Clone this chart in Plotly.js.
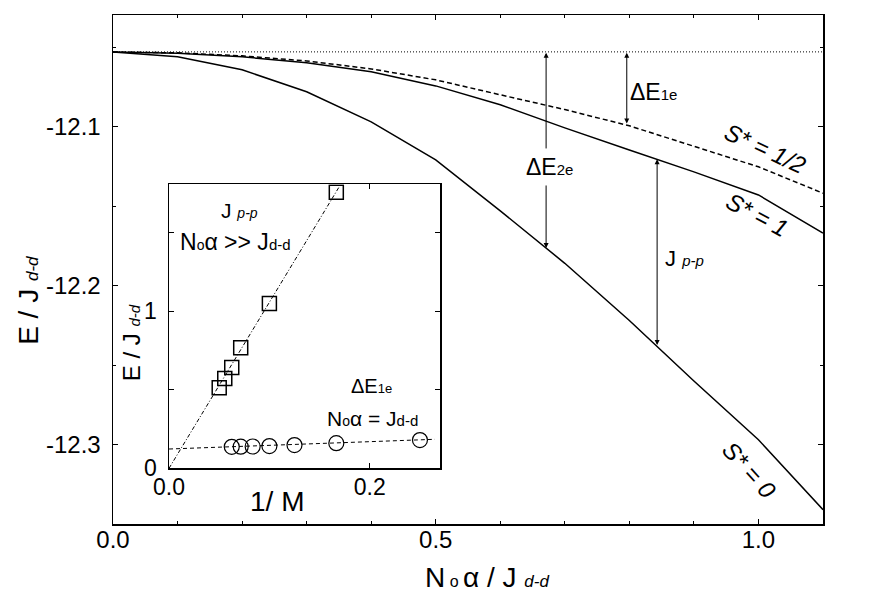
<!DOCTYPE html>
<html>
<head>
<meta charset="utf-8">
<script src="https://cdn.plot.ly/plotly-3.0.1.min.js"></script>
<style>
  html, body { margin: 0; padding: 0; background: #fff; }
  #plot { width: 872px; height: 603px; }
</style>
</head>
<body>
<div id="plot"></div>
<script>
// main panel: energy vs N0 alpha / J_dd
var nAlpha = [0, 0.1, 0.2, 0.3, 0.4, 0.5, 0.6, 0.7, 0.8, 0.9, 1.0, 1.1];
var eS0    = [-12.0531, -12.0561, -12.0643, -12.0781, -12.0970, -12.1210, -12.1530, -12.1860, -12.2220, -12.2600, -12.2970, -12.3410];
var eS1    = [-12.0531, -12.0539, -12.0561, -12.0599, -12.0655, -12.0744, -12.0863, -12.1008, -12.1147, -12.1285, -12.1430, -12.1670];
var eSHalf = [-12.0531, -12.0536, -12.0555, -12.0587, -12.0637, -12.0706, -12.0800, -12.0893, -12.0995, -12.1123, -12.1253, -12.1419];
var eLimit = -12.053;
var yTicks = [-12.3, -12.2, -12.1];

// inset: gaps vs 1/M
var invM_J = [1/20, 1/18, 1/16, 1/14, 1/10, 1/6];
var gapJ   = [0.513, 0.573, 0.643, 0.768, 1.051, 1.760];
var invM_D = [1/16, 1/14, 1/12, 1/10, 1/8, 1/6, 1/4];
var gapD   = [0.137, 0.138, 0.139, 0.142, 0.148, 0.160, 0.180];
var fitJx = [0, 0.172], fitJy = [0, 1.82];
var fitDx = [0, 0.265], fitDy = [0.123, 0.185];

var FONT = 'Liberation Sans, Arial, sans-serif';
var black = '#000';

var traces = [
  {x: [0, 1.1], y: [eLimit, eLimit], mode: 'lines', line: {color: black, width: 1, dash: '1px,2px'}},
  {x: nAlpha, y: eSHalf, mode: 'lines', line: {color: black, width: 1.5, dash: '5px,3px'}},
  {x: nAlpha, y: eS1, mode: 'lines', line: {color: black, width: 1.5}},
  {x: nAlpha, y: eS0, mode: 'lines', line: {color: black, width: 1.5}},
  // inset
  {x: fitJx, y: fitJy, xaxis: 'x2', yaxis: 'y2', mode: 'lines', line: {color: black, width: 1, dash: '4px,2px,1px,2px'}},
  {x: fitDx, y: fitDy, xaxis: 'x2', yaxis: 'y2', mode: 'lines', line: {color: black, width: 1, dash: '4px,3px'}},
  {x: invM_J, y: gapJ, xaxis: 'x2', yaxis: 'y2', mode: 'markers',
   marker: {symbol: 'square-open', size: 14, color: black, line: {width: 1.5}}},
  {x: invM_D, y: gapD, xaxis: 'x2', yaxis: 'y2', mode: 'markers',
   marker: {symbol: 'circle-open', size: 15, color: black, line: {width: 1.2}}}
];

function txt(x, y, text, size, extra) {
  var a = {x: x, y: y, xref: 'x', yref: 'y', text: text, showarrow: false,
           xanchor: 'center', yanchor: 'middle',
           font: {family: FONT, size: size, color: black}};
  for (var k in extra) a[k] = extra[k];
  return a;
}
function arrow(x, y0, y1, both) {
  return {x: x, y: y1, ax: x, ay: y0, xref: 'x', yref: 'y', axref: 'x', ayref: 'y',
          text: '', showarrow: true, arrowhead: 2, arrowsize: 1, arrowwidth: 1, arrowcolor: black,
          standoff: 0, startstandoff: 0,
          arrowside: both ? 'end+start' : 'end', startarrowhead: 2, startarrowsize: 1};
}

var sub = function (s, n) { return '<span style="font-size:' + n + 'px">' + s + '</span>'; };

var annotations = [
  // axis titles
  txt(0.527, -0.106, 'N' + sub(' o ', 16) + 'α / J ' + '<i>' + sub('d-d', 17) + '</i>', 28,
      {xref: 'paper', yref: 'paper'}),
  txt(-0.12, 0.44, 'E / J ' + '<i>' + sub('d-d', 17) + '</i>', 28,
      {xref: 'paper', yref: 'paper', textangle: -90}),
  txt(0.026, 0.356, 'E / J ' + '<i>' + sub('d-d', 15) + '</i>', 24,
      {xref: 'paper', yref: 'paper', textangle: -90}),
  txt(0.1075, 0.045, '1/ M', 28, {xref: 'x2', yref: 'paper'}),

  // arrows in main panel
  arrow(0.671, -12.1147, -12.0536, false),
  arrow(0.671, -12.1361, -12.1764, false),
  arrow(0.796, -12.0990, -12.0536, true),
  arrow(0.843, -12.2383, -12.1206, true),

  txt(0.838, -12.0781, 'ΔE' + sub('1e', 15), 23),
  txt(0.677, -12.1254, 'ΔE' + sub('2e', 15), 23),
  txt(0.886, -12.1827, 'J ' + '<i>' + sub('p-p', 15) + '</i>', 22),

  txt(1.010, -12.114, '<i>S* = 1/2</i>', 24, {textangle: 25}),
  txt(0.997, -12.1556, '<i>S* = 1</i>', 24, {textangle: 28}),
  txt(0.9865, -12.3162, '<i>S* = 0</i>', 24, {textangle: 48}),

  // inset labels
  txt(0.0706, 1.645, 'J ' + '<i>' + sub('p-p', 14) + '</i>', 21, {xref: 'x2', yref: 'y2'}),
  txt(0.0667, 1.441, 'N' + sub('o', 14) + 'α &gt;&gt; J' + sub('d-d', 15), 23, {xref: 'x2', yref: 'y2'}),
  txt(0.202, 0.524, 'ΔE' + sub('1e', 13), 20, {xref: 'x2', yref: 'y2'}),
  txt(0.203, 0.320, 'N' + sub('o', 14) + 'α = J' + sub('d-d', 15), 21, {xref: 'x2', yref: 'y2'})
];

var axisCommon = {
  showline: true, linecolor: black, linewidth: 1.5, mirror: 'ticks',
  ticks: 'inside', ticklen: 5, tickwidth: 1, tickcolor: black,
  showgrid: false, zeroline: false, ticklabelstandoff: 6,
  tickfont: {family: FONT, size: 24, color: black}
};

var layout = {
  width: 872, height: 603,
  margin: {l: 113, r: 49, t: 15, b: 79},
  paper_bgcolor: '#fff', plot_bgcolor: 'rgba(0,0,0,0)',
  showlegend: false,
  xaxis: Object.assign({}, axisCommon, {
    range: [0, 1.1], dtick: 0.5, tick0: 0, tickformat: '.1f', ticklabelstandoff: -6,
    minor: {dtick: 0.1, ticklen: 3, tickcolor: black, ticks: 'inside'}
  }),
  yaxis: Object.assign({}, axisCommon, {
    range: [-12.35, -12.0298], tickmode: 'array', tickvals: yTicks,
    ticktext: yTicks.map(function (v) { return v.toFixed(1); }),
    minor: {dtick: 0.05, tick0: -12.1, ticklen: 3, tickcolor: black, ticks: 'inside'}
  }),
  xaxis2: Object.assign({}, axisCommon, {
    domain: [0.0789, 0.4606], anchor: 'y2', range: [0, 0.27], dtick: 0.2, tick0: 0, tickformat: '.1f',
    tickfont: {family: FONT, size: 23, color: black}, ticklabelstandoff: -2
  }),
  yaxis2: Object.assign({}, axisCommon, {
    domain: [0.1094, 0.6674], anchor: 'x2', range: [0, 1.81], dtick: 1, tick0: 0,
    tickfont: {family: FONT, size: 23, color: black}, ticklabelstandoff: 6,
    minor: {dtick: 0.5, ticklen: 5, tickcolor: black, ticks: 'inside'}
  }),
  annotations: annotations
};

Plotly.newPlot('plot', traces, layout, {staticPlot: true});
</script>
</body>
</html>
